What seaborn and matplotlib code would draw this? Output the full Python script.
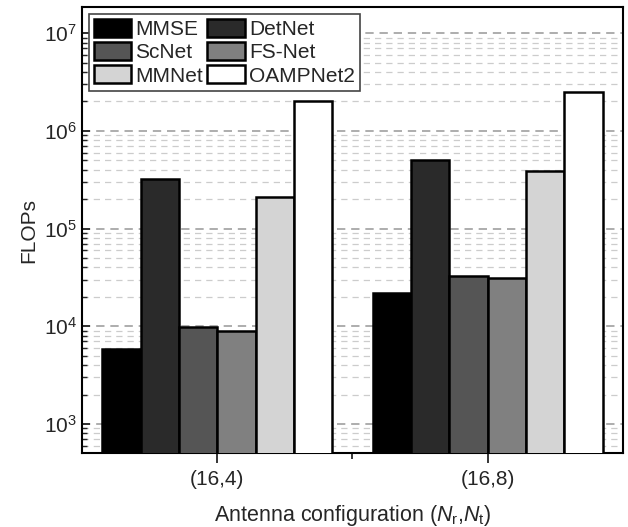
import numpy as np
import pandas as pd
import matplotlib
matplotlib.use('Agg')
import matplotlib.pyplot as plt
import seaborn as sns

# datos (FLOPs)
configs = ['(16,4)', '(16,8)']
methods = ['MMSE', 'DetNet', 'ScNet', 'FS-Net', 'MMNet', 'OAMPNet2']
flops_16_4 = [5.9e3, 3.2e5, 9.8e3, 9.0e3, 2.1e5, 2.0e6]
flops_16_8 = [2.2e4, 5.0e5, 3.3e4, 3.1e4, 3.9e5, 2.5e6]
colores = ['#000000', '#2a2a2a', '#555555', '#808080', '#d4d4d4', '#ffffff']

df = pd.DataFrame({
    'config': [configs[0]] * len(methods) + [configs[1]] * len(methods),
    'method': methods + methods,
    'flops': flops_16_4 + flops_16_8,
})

sns.set_style('ticks')
plt.rcParams['font.family'] = ['Liberation Sans', 'DejaVu Sans']
plt.rcParams['mathtext.fontset'] = 'custom'
plt.rcParams['mathtext.rm'] = 'Liberation Sans'
plt.rcParams['mathtext.it'] = 'Liberation Sans:italic'

fig = plt.figure(figsize=(6.28, 5.27), dpi=100)
ax = fig.add_axes([0.1306, 0.1404, 0.8614, 0.8463])
ax.set_yscale('log')

sns.barplot(data=df, x='config', y='flops', hue='method', hue_order=methods,
            palette=colores, edgecolor='black', linewidth=1.8, width=0.85,
            saturation=1, ax=ax, zorder=3)

ax.set_ylim(505, 1.85e7)
ax.set_xlim(-0.5, 1.5)

# grillas punteadas
ax.set_axisbelow(True)
ax.yaxis.grid(True, which='major', linestyle=(0, (5, 3.5)), color='#a0a0a0', linewidth=1.2)
ax.yaxis.grid(True, which='minor', linestyle=(0, (5, 4)), color='#cccccc', linewidth=0.9)

ax.set_xticks([0.5], minor=True)
ax.tick_params(axis='x', which='major', direction='out', length=7, width=1.3, labelsize=15, pad=5)
ax.tick_params(axis='x', which='minor', direction='out', length=4, width=1.3)
ax.tick_params(axis='y', which='major', direction='in', length=6, width=1.3, labelsize=15)
ax.tick_params(axis='y', which='minor', direction='in', length=3.5, width=1.0)
for s in ax.spines.values():
    s.set_linewidth(1.5)
    s.set_color('black')

ax.set_ylabel('FLOPs', fontsize=15, labelpad=4)
ax.set_xlabel(r'Antenna configuration ($\mathit{N}_{\mathrm{r}}$,$\mathit{N}_{\mathrm{t}}$)',
              fontsize=15.5, labelpad=10)

# leyenda: orden por filas
h, l = ax.get_legend_handles_labels()
orden = [0, 2, 4, 1, 3, 5]
ax.legend([h[i] for i in orden], [l[i] for i in orden], ncol=2, loc='upper left',
          bbox_to_anchor=(0.012, 0.985), borderaxespad=0, fontsize=15,
          handlelength=1.8, handleheight=0.95, handletextpad=0.2, columnspacing=0.2,
          labelspacing=0.15, borderpad=0.25, fancybox=False, edgecolor='#444444',
          framealpha=1)
ax.get_legend().get_frame().set_linewidth(1.2)

plt.savefig('out.png', dpi=100)
